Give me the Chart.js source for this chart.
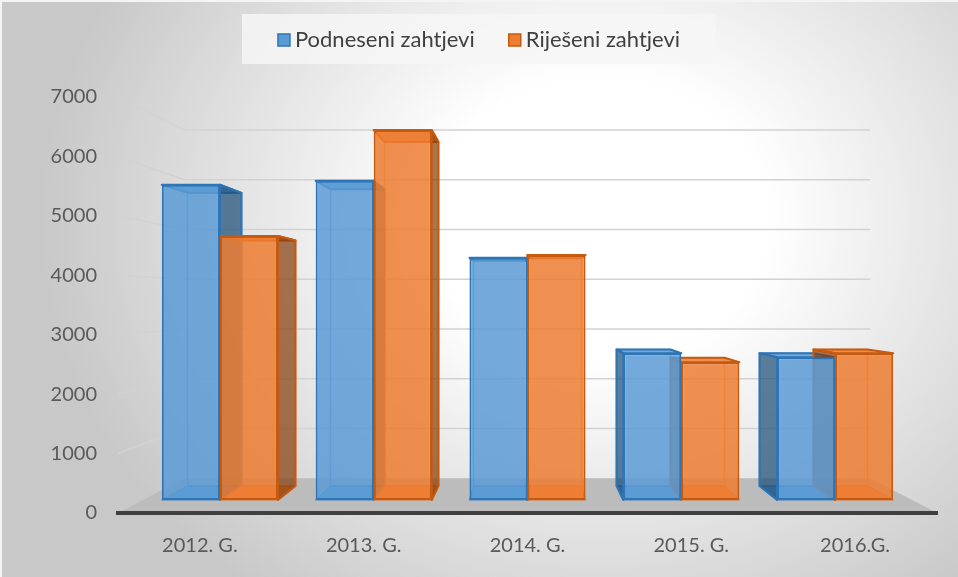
<!DOCTYPE html>
<html>
  <head>
    <script src="https://cdn.jsdelivr.net/npm/chart.js@4.4.0/dist/chart.umd.min.js"></script>
    <style>
      html, body { margin: 0; padding: 0; background: #fff; }
      #myChart { display: block; }
    </style>
  </head>
  <body>
    <canvas id="myChart" width="958" height="577"></canvas>

    <script>
      // Data
      var years = ["2012. G.", "2013. G.", "2014. G.", "2015. G.", "2016.G."];
      var submitted = [5650, 5720, 4340, 2630, 2560];
      var resolved = [4730, 6630, 4390, 2470, 2630];
      var yTicks = [0, 1000, 2000, 3000, 4000, 5000, 6000, 7000];
      var seriesNames = ["Podneseni zahtjevi", "Riješeni zahtjevi"];

      // Perspective of the 3-D look (depth factors toward the vanishing point)
      var EYE_VALUE = 3585;
      var BAR_FRONT = 0.939;
      var BAR_BACK = 0.873;
      var WALL = 0.837;

      var FONT = "Lato, 'Open Sans', sans-serif";

      var mid = (years.length - 1) / 2;
      var xbMin = mid - years.length / 2 / BAR_FRONT;
      var xbMax = mid + years.length / 2 / BAR_FRONT;
      var yMin = yTicks[0];
      var yMax = yTicks[yTicks.length - 1];
      var ybMin = EYE_VALUE + (yMin - EYE_VALUE) / BAR_FRONT;
      var ybMax = EYE_VALUE + (yMax - EYE_VALUE) / BAR_FRONT;

      function toPoints(values) {
        return values.map(function (v, i) {
          return { x: i, y: v };
        });
      }

      function toward(v, px, py, f) {
        return [v.x + (px - v.x) * f, v.y + (py - v.y) * f];
      }

      function vanish(chart) {
        return {
          x: chart.scales.xb.getPixelForValue(mid),
          y: chart.scales.y.getPixelForValue(EYE_VALUE),
        };
      }

      function poly(ctx, pts) {
        ctx.beginPath();
        ctx.moveTo(pts[0][0], pts[0][1]);
        for (var i = 1; i < pts.length; i++) ctx.lineTo(pts[i][0], pts[i][1]);
        ctx.closePath();
      }

      var scene = {
        id: "scene",
        beforeDraw: function (chart) {
          var ctx = chart.ctx;
          var area = chart.chartArea;
          var w = chart.width, h = chart.height;
          ctx.save();

          // background shading
          ctx.save();
          ctx.translate(600, 220);
          ctx.scale(1, 470 / 560);
          var g = ctx.createRadialGradient(0, 0, 0, 0, 0, 560);
          g.addColorStop(0, "#ffffff");
          g.addColorStop(0.3, "#ffffff");
          g.addColorStop(1, "#c8c8c8");
          ctx.fillStyle = g;
          ctx.fillRect(-700, -400, 1600, 1200);
          ctx.restore();
          ctx.fillStyle = "#f4f4f4";
          ctx.fillRect(0, 0, w, 2);
          ctx.fillRect(0, 0, 2, h);

          var V = vanish(chart);
          var y = chart.scales.y;

          // gridlines bent onto the back wall
          ctx.strokeStyle = "#d2d2d2";
          ctx.lineWidth = 1.5;
          yTicks.forEach(function (t) {
            if (t === yMin) return;
            var py = y.getPixelForValue(t);
            var a = toward(V, area.left, py, WALL);
            var b = toward(V, area.right, py, WALL);
            ctx.beginPath();
            ctx.moveTo(area.left, py);
            ctx.lineTo(a[0], a[1]);
            ctx.lineTo(b[0], b[1]);
            ctx.stroke();
          });

          // floor
          var y0 = y.getPixelForValue(yMin);
          var bl = toward(V, area.left, y0, WALL);
          var br = toward(V, area.right, y0, WALL);
          poly(ctx, [[area.left, y0], [area.right, y0], br, bl]);
          ctx.fillStyle = "#bcbcbc";
          ctx.fill();

          ctx.restore();
        },
        beforeDatasetsDraw: function (chart) {
          var ctx = chart.ctx;
          var V = vanish(chart);
          var s = BAR_BACK / BAR_FRONT;
          ctx.save();
          ctx.lineJoin = "round";
          chart.data.datasets.forEach(function (ds, di) {
            var meta = chart.getDatasetMeta(di);
            meta.data.forEach(function (bar) {
              var p = bar.getProps(["x", "y", "base", "width"], true);
              var l = p.x - p.width / 2, r = p.x + p.width / 2;
              var t = p.y, b = p.base;
              var blt = toward(V, l, t, s), brt = toward(V, r, t, s);
              var blb = toward(V, l, b, s), brb = toward(V, r, b, s);

              ctx.lineWidth = 1.5;
              ctx.strokeStyle = ds.edgeColor;

              // bottom face
              poly(ctx, [[l, b], [r, b], brb, blb]);
              ctx.fillStyle = ds.backgroundColor;
              ctx.fill();
              ctx.stroke();

              // back face
              poly(ctx, [blt, brt, brb, blb]);
              ctx.stroke();

              // top face
              poly(ctx, [[l, t], [r, t], brt, blt]);
              ctx.fillStyle = ds.backgroundColor;
              ctx.fill();
              ctx.strokeStyle = ds.borderColor;
              ctx.lineWidth = 2;
              ctx.stroke();

              // visible side face
              if (p.x < V.x - 1) {
                poly(ctx, [[r, t], brt, brb, [r, b]]);
              } else if (p.x > V.x + 1) {
                poly(ctx, [[l, t], blt, blb, [l, b]]);
              } else {
                return;
              }
              ctx.fillStyle = ds.sideColor;
              ctx.fill();
              ctx.stroke();
            });
          });
          ctx.restore();
        },
        afterDraw: function (chart) {
          var ctx = chart.ctx;
          ctx.save();
          ctx.font = "22px " + FONT;
          var box = 12, gap = 5, spacing = 34, pad = 36;
          var items = chart.data.datasets.map(function (ds) {
            return { ds: ds, w: ctx.measureText(ds.label).width };
          });
          var total = 0;
          items.forEach(function (it, i) {
            total += box + gap + it.w + (i > 0 ? spacing : 0);
          });
          var x = chart.width / 2 - total / 2;
          ctx.fillStyle = "rgba(246,246,246,0.85)";
          ctx.fillRect(x - pad, 14, total + pad * 2, 50);
          var cy = 40;
          items.forEach(function (it) {
            ctx.fillStyle = it.ds.legendColor;
            ctx.fillRect(x, cy - box / 2, box, box);
            ctx.strokeStyle = it.ds.borderColor;
            ctx.lineWidth = 1.5;
            ctx.strokeRect(x, cy - box / 2, box, box);
            ctx.fillStyle = "#404040";
            ctx.textBaseline = "middle";
            ctx.textAlign = "left";
            ctx.fillText(it.ds.label, x + box + gap, cy);
            x += box + gap + it.w + spacing;
          });
          ctx.restore();
        },
      };

      var ctx = document.getElementById("myChart").getContext("2d");
      var myChart = new Chart(ctx, {
        type: "bar",
        data: {
          labels: years,
          datasets: [
            {
              label: seriesNames[0],
              data: toPoints(submitted),
              xAxisID: "xb",
              yAxisID: "yb",
              backgroundColor: "rgba(91,155,213,0.85)",
              borderColor: "#2e75b6",
              edgeColor: "rgba(46,117,182,0.55)",
              sideColor: "rgba(31,78,121,0.72)",
              legendColor: "#5b9bd5",
              borderWidth: 2,
              borderSkipped: false,
            },
            {
              label: seriesNames[1],
              data: toPoints(resolved),
              xAxisID: "xb",
              yAxisID: "yb",
              backgroundColor: "rgba(237,125,49,0.85)",
              borderColor: "#c55a11",
              edgeColor: "rgba(230,110,30,0.6)",
              sideColor: "rgba(132,60,12,0.7)",
              legendColor: "#ed7d31",
              borderWidth: 2,
              borderSkipped: false,
            },
          ],
        },
        options: {
          responsive: false,
          animation: false,
          layout: { padding: { top: 97, right: 21, bottom: 0, left: 0 } },
          datasets: {
            bar: { barPercentage: 1, categoryPercentage: 0.755 },
          },
          plugins: {
            legend: { display: false },
            tooltip: { enabled: false },
          },
          scales: {
            x: {
              type: "category",
              offset: true,
              grid: { display: false, drawTicks: false },
              border: { display: true, color: "#3f3f3f", width: 4 },
              ticks: { color: "#595959", font: { size: 20, family: FONT }, padding: 21 },
              afterFit: function (scale) { scale.height = 64; },
            },
            y: {
              type: "linear",
              position: "left",
              min: yMin,
              max: yMax,
              grid: { display: false, drawTicks: false },
              border: { display: false },
              ticks: {
                stepSize: 1000,
                color: "#595959",
                font: { size: 20, family: FONT },
                padding: 21,
                callback: function (v) { return String(v); },
              },
              afterFit: function (scale) { scale.width = 118; },
            },
            xb: {
              type: "linear",
              display: false,
              offset: false,
              min: xbMin,
              max: xbMax,
            },
            yb: {
              type: "linear",
              display: false,
              min: ybMin,
              max: ybMax,
            },
          },
        },
        plugins: [scene],
      });
    </script>
  </body>
</html>
